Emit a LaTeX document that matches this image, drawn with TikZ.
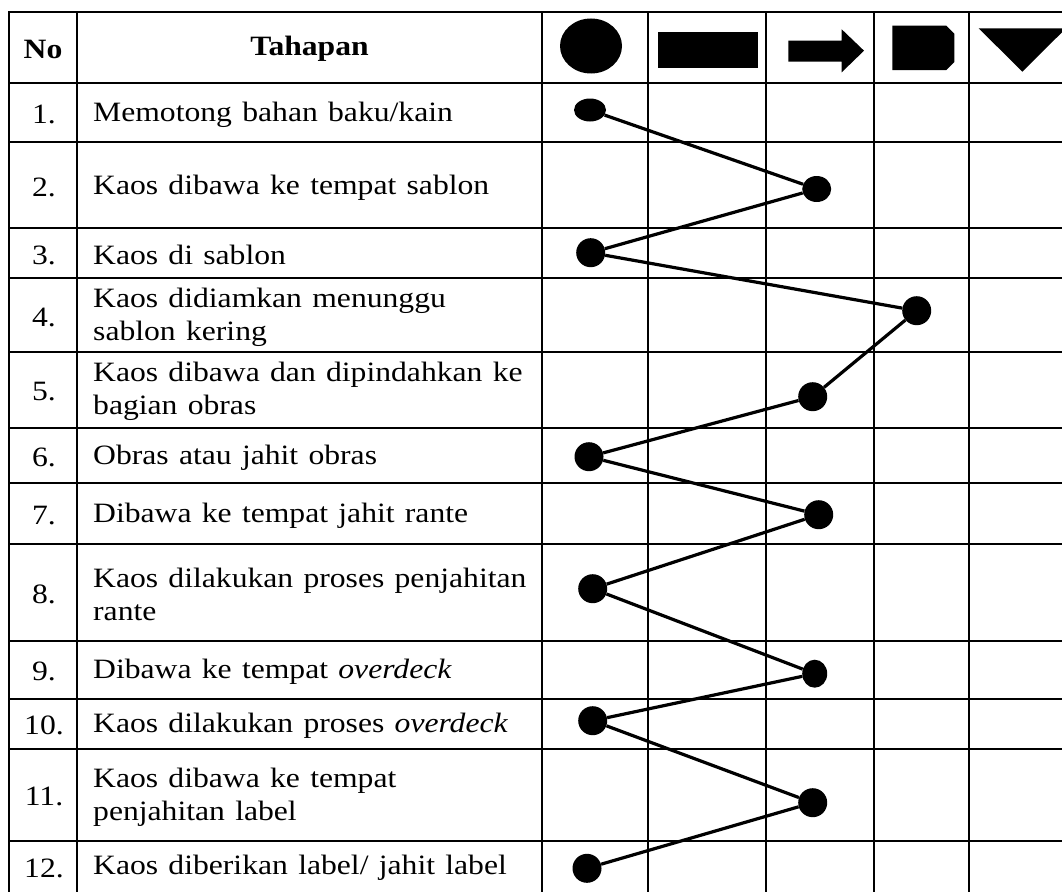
\documentclass[tikz,border=0pt]{standalone}
\usepackage{fontspec}
\setmainfont{Liberation Serif}[FakeStretch=1.13, WordSpace=1.3]
\usetikzlibrary{shapes.geometric}
\begin{document}
\begin{tikzpicture}[x=1pt,y=-1pt,
  grid/.style={line width=1.6pt, line cap=rect},
  conn/.style={line width=3.2pt},
  dot/.style={ellipse, fill=black, draw=none, inner sep=0pt, minimum width=29pt, minimum height=29pt},
  num/.style={anchor=center, inner sep=0pt, font=\fontsize{28}{33}\selectfont},
  txt/.style={anchor=west, inner sep=0pt, align=left, font=\fontsize{28}{33}\selectfont},
  head/.style={anchor=center, inner sep=0pt, font=\fontsize{28}{33}\selectfont\bfseries},
  sym/.style={fill=black}]
\useasboundingbox (0,0) rectangle (1062,891);
% grid
\foreach \y in {12,83,142,228,278,352,428,483,544,641,699,749,841}
  \draw[grid] (9,\y) -- (1064,\y);
\foreach \x in {9,77,542,648,766,874,969}
  \draw[grid] (\x,12) -- (\x,893);
% header
\node[head] (hno) at (43,49) {No};
\node[head] (htah) at (309.5,49) {Tahapan};
\fill[sym] (591,46) ellipse [x radius=31, y radius=27.5];
\fill[sym] (658.3,32.3) rectangle (758.3,67.7);
\fill[sym] (788.3,40.7) -- (841.7,40.7) -- (841.7,29.3) -- (864,50.7) -- (841.7,72.3) -- (841.7,61.7) -- (788.3,61.7) -- cycle;
\fill[sym] (892.3,25.7) -- (946.3,25.7) -- (954.3,33.7) -- (954.3,62) -- (946.3,70) -- (892.3,70) -- cycle;
\fill[sym] (978.7,28.3) -- (1066,28.3) -- (1022.3,71.7) -- cycle;
% numbers
\node[num] (n1) at (44,114.8) {1.};
\node[num] (n2) at (44,187.3) {2.};
\node[num] (n3) at (44,255.3) {3.};
\node[num] (n4) at (44,317) {4.};
\node[num] (n5) at (44,391.7) {5.};
\node[num] (n6) at (44,457.5) {6.};
\node[num] (n7) at (44,515.7) {7.};
\node[num] (n8) at (44,594.3) {8.};
\node[num] (n9) at (44,671.8) {9.};
\node[num] (n10) at (44,725.8) {10.};
\node[num] (n11) at (44,796.8) {11.};
\node[num] (n12) at (44,868) {12.};
% texts
\node[txt] (t1) at (93,114.8) {Memotong bahan baku/kain};
\node[txt] (t2) at (93,187.3) {Kaos dibawa ke tempat sablon};
\node[txt] (t3) at (93,255.3) {Kaos di sablon};
\node[txt] (t4) at (93,317) {Kaos didiamkan menunggu\\sablon kering};
\node[txt] (t5) at (93,391.7) {Kaos dibawa dan dipindahkan ke\\bagian obras};
\node[txt] (t6) at (93,457.5) {Obras atau jahit obras};
\node[txt] (t7) at (93,515.7) {Dibawa ke tempat jahit rante};
\node[txt] (t8) at (93,594.3) {Kaos dilakukan proses penjahitan\\rante};
\node[txt] (t9) at (93,671.8) {Dibawa ke tempat \textit{overdeck}};
\node[txt] (t10) at (93,725.8) {Kaos dilakukan proses \textit{overdeck}};
\node[txt] (t11) at (93,796.8) {Kaos dibawa ke tempat\\penjahitan label};
\node[txt] (t12) at (93,868) {Kaos diberikan label/ jahit label};
% dots
\node[dot, minimum width=32pt, minimum height=23pt] (d1) at (590,110) {};
\node[dot, minimum height=26pt] (d2) at (816.7,189) {};
\node[dot] (d3) at (590.7,252.7) {};
\node[dot] (d4) at (916.7,310.7) {};
\node[dot] (d5) at (812.7,396.7) {};
\node[dot] (d6) at (589,456.7) {};
\node[dot] (d7) at (818.7,514.7) {};
\node[dot] (d8) at (592.7,588.7) {};
\node[dot, minimum width=25pt, minimum height=28pt] (d9) at (814.7,673.7) {};
\node[dot] (d10) at (592.7,720.7) {};
\node[dot] (d11) at (812.7,802.7) {};
\node[dot] (d12) at (587,868.3) {};
% connectors
\foreach \a/\b in {d1/d2,d2/d3,d3/d4,d4/d5,d5/d6,d6/d7,d7/d8,d8/d9,d9/d10,d10/d11,d11/d12}
  \draw[conn] (\a) -- (\b);
\end{tikzpicture}
\end{document}
